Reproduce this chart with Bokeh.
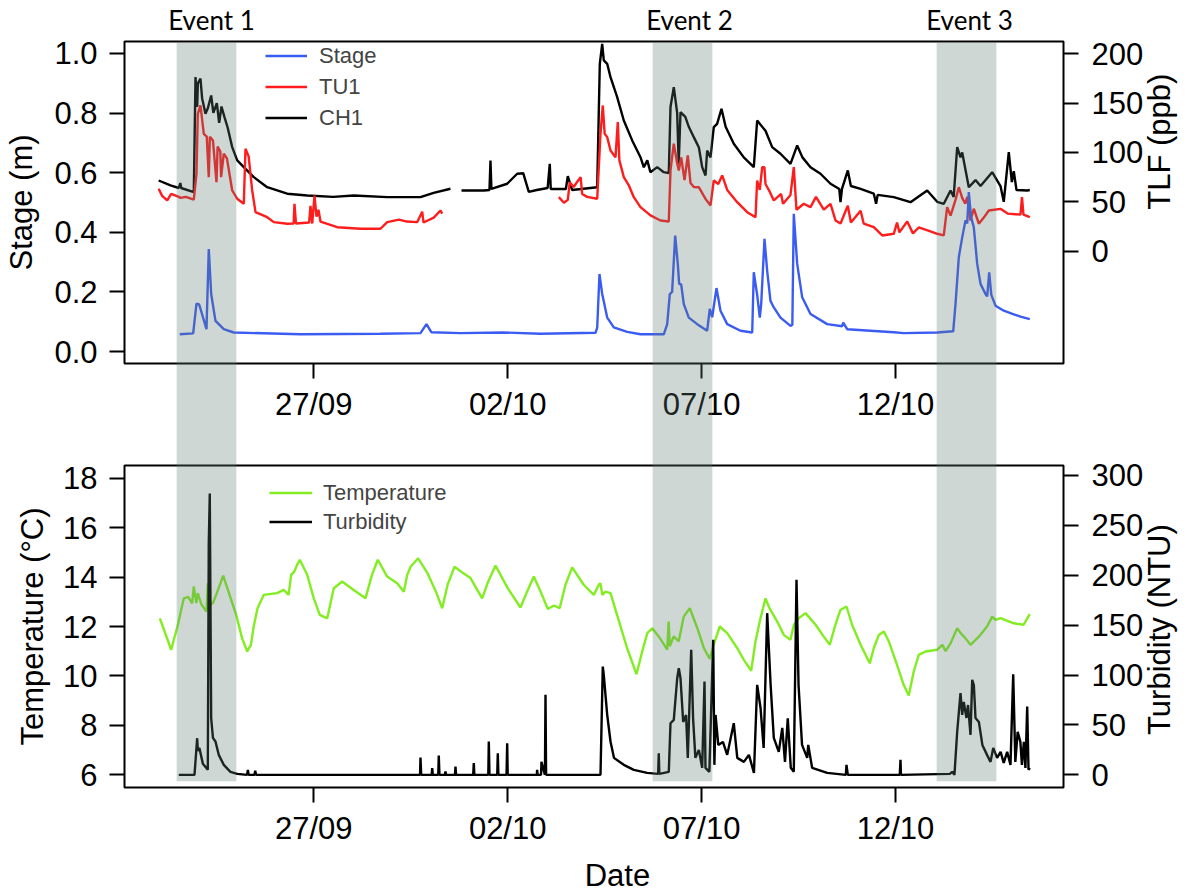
import numpy as np
import pandas as pd
from bokeh.plotting import figure
from bokeh.models import (Range1d, LinearAxis, FixedTicker, DatetimeTickFormatter,
                          PrintfTickFormatter, CustomJSTickFormatter, Legend, LegendItem)
from bokeh.layouts import column
from bokeh.embed import file_html
from bokeh.resources import INLINE

nan = float("nan")
BASE = pd.Timestamp("2013-09-27")  # day offsets below are relative to 27/09 00:00

# ---------------- data (day offset, value) ----------------
stage = [(-3.455, 0.058), (-3.11, 0.061), (-3.025, 0.161), (-2.955, 0.158), (-2.767, 0.075),
         (-2.708, 0.344), (-2.646, 0.193), (-2.535, 0.103), (-2.321, 0.075), (-2.063, 0.064),
         (-0.34, 0.058), (1.72, 0.060), (2.751, 0.062), (2.906, 0.092), (3.03, 0.065),
         (3.783, 0.062), (4.858, 0.064), (5.85, 0.060), (7.264, 0.063), (7.308, 0.080),
         (7.367, 0.260), (7.437, 0.193), (7.566, 0.114), (7.736, 0.081), (8.081, 0.066),
         (8.424, 0.058), (9.025, 0.058), (9.113, 0.092), (9.180, 0.193), (9.24, 0.200),
         (9.319, 0.389), (9.386, 0.294), (9.422, 0.227), (9.474, 0.225), (9.541, 0.159),
         (9.670, 0.114), (9.886, 0.092), (10.144, 0.070), (10.211, 0.143), (10.273, 0.115),
         (10.384, 0.213), (10.487, 0.137), (10.660, 0.092), (11.003, 0.070), (11.305, 0.064),
         (11.346, 0.266), (11.433, 0.190), (11.501, 0.114), (11.537, 0.160), (11.622, 0.378),
         (11.691, 0.271), (11.776, 0.170), (11.862, 0.148), (12.034, 0.114), (12.292, 0.086),
         (12.34, 0.090), (12.377, 0.462), (12.465, 0.294), (12.594, 0.182), (12.808, 0.126),
         (13.238, 0.092), (13.625, 0.085), (13.651, 0.097), (13.754, 0.075), (14.956, 0.065),
         (15.214, 0.062), (16.075, 0.064), (16.488, 0.068), (16.547, 0.159), (16.632, 0.316),
         (16.720, 0.383), (16.805, 0.440), (16.85, 0.430), (16.890, 0.535), (16.95, 0.450),
         (17.019, 0.417), (17.107, 0.294), (17.192, 0.227), (17.321, 0.193), (17.364, 0.185),
         (17.416, 0.266), (17.47, 0.190), (17.578, 0.154), (17.792, 0.137), (18.05, 0.125),
         (18.223, 0.117), (18.463, 0.109)]

ch1 = [(-4.00, 71.6), (-3.695, 66.6), (-3.481, 64.0), (-3.44, 69.0), (-3.42, 64.0), (-3.094, 59.8),
       (-3.05, 176.3), (-3.007, 146.0), (-2.99, 170.0), (-2.922, 174.7), (-2.88, 155.0),
       (-2.793, 139.2), (-2.73, 145.0), (-2.646, 157.7), (-2.59, 140.0), (-2.50, 150.0),
       (-2.44, 130.0), (-2.38, 146.6), (-2.303, 135.8), (-2.22, 125.0), (-2.104, 105.4),
       (-1.975, 91.9), (-1.805, 85.1), (-1.547, 75.0), (-1.202, 64.8), (-0.686, 58.2),
       (-0.17, 56.4), (0.5, 55.0), (1.031, 56.4), (1.893, 54.7), (2.751, 54.7), (3.09, 59.0),
       (3.525, 63.2), (3.6, nan), (3.809, 61.5), (4.384, 61.5), (4.53, 62.0), (4.556, 91.9),
       (4.58, 63.0), (4.987, 68.3), (5.245, 78.4), (5.40, 79.0), (5.544, 60.0), (5.75, 62.0),
       (6.03, 64.0), (6.085, 88.5), (6.11, 63.0), (6.50, 63.0), (6.55, 76.0), (6.66, 62.0),
       (7.308, 64.8), (7.375, 189.8), (7.437, 210.0), (7.478, 193.2), (7.566, 189.8),
       (7.651, 176.3), (7.823, 156.0), (7.994, 132.4), (8.21, 112.2), (8.424, 95.2),
       (8.51, 85.0), (8.60, 92.0), (8.68, 80.0), (8.855, 85.1), (9.025, 80.0), (9.154, 79.0),
       (9.198, 146.0), (9.283, 166.2), (9.37, 140.0), (9.41, 88.5), (9.456, 140.8),
       (9.58, 136.0), (9.67, 126.0), (9.799, 115.5), (9.93, 105.0), (10.015, 85.1),
       (10.101, 76.7), (10.144, 102.0), (10.23, 95.0), (10.314, 125.6), (10.40, 129.0),
       (10.513, 144.3), (10.62, 126.0), (10.83, 108.8), (11.088, 95.0), (11.346, 85.1),
       (11.433, 132.4), (11.52, 128.0), (11.648, 122.0), (11.82, 105.4), (12.034, 98.7),
       (12.292, 88.5), (12.465, 107.1), (12.60, 95.0), (12.808, 85.1), (13.066, 78.4),
       (13.324, 68.3), (13.55, 63.0), (13.582, 49.6), (13.62, 63.0), (13.77, 81.8),
       (13.85, 66.0), (14.10, 63.0), (14.44, 58.2), (14.50, 48.0), (14.54, 57.0),
       (14.956, 54.7), (15.387, 49.6), (15.817, 61.5), (16.075, 50.0), (16.245, 48.0),
       (16.42, 61.5), (16.50, 55.0), (16.591, 105.4), (16.676, 95.0), (16.72, 100.0),
       (16.89, 64.8), (17.063, 72.0), (17.192, 66.0), (17.493, 80.0), (17.707, 66.0),
       (17.792, 50.0), (17.921, 100.3), (18.00, 70.0), (18.05, 81.0), (18.12, 62.0),
       (18.396, 61.5), (18.463, 62.0)]

tu1 = [(-4.00, 63.2), (-3.91, 56.0), (-3.78, 51.4), (-3.677, 58.0), (-3.48, 55.0), (-3.437, 54.0),
       (-3.30, 55.0), (-3.094, 52.1), (-3.025, 78.4), (-2.991, 139.2), (-2.922, 147.6),
       (-2.836, 118.9), (-2.76, 116.0), (-2.708, 75.0), (-2.68, 116.0), (-2.60, 112.0),
       (-2.509, 69.9), (-2.48, 106.0), (-2.41, 101.0), (-2.39, 75.0), (-2.321, 98.7),
       (-2.24, 94.0), (-2.104, 61.5), (-1.975, 53.1), (-1.805, 48.0), (-1.761, 103.7),
       (-1.68, 96.0), (-1.59, 62.0), (-1.503, 39.5), (-1.202, 34.4), (-1.031, 29.4),
       (-0.686, 27.8), (-0.52, 28.0), (-0.498, 48.0), (-0.46, 28.0), (-0.12, 29.0),
       (-0.085, 46.0), (-0.04, 28.0), (0.018, 56.4), (0.07, 35.0), (0.12, 42.0), (0.173, 30.0),
       (0.603, 24.3), (1.204, 22.7), (1.72, 22.7), (1.893, 29.4), (2.2, 32.0), (2.4, 30.0),
       (2.666, 29.4), (2.795, 40.0), (2.83, 29.0), (3.094, 34.0), (3.267, 41.2), (3.311, 38.0),
       (4.0, nan), (6.318, 54.7), (6.45, 49.0), (6.55, 52.0), (6.601, 69.9), (6.70, 65.0),
       (6.79, 70.0), (6.88, 75.0), (6.921, 58.0), (7.05, 55.0), (7.308, 53.1), (7.393, 118.9),
       (7.452, 147.6), (7.50, 119.0), (7.566, 115.5), (7.651, 102.0), (7.78, 95.0),
       (7.839, 130.7), (7.88, 92.0), (7.994, 75.0), (8.12, 67.0), (8.252, 54.7), (8.424, 44.6),
       (8.682, 36.2), (8.940, 31.1), (9.154, 30.0), (9.198, 81.8), (9.283, 108.8), (9.37, 89.0),
       (9.412, 81.8), (9.474, 95.0), (9.56, 72.0), (9.644, 97.0), (9.714, 69.0), (9.80, 65.0),
       (9.928, 64.8), (10.101, 53.0), (10.229, 46.3), (10.314, 71.6), (10.43, 68.0),
       (10.531, 76.7), (10.66, 62.0), (10.918, 49.6), (11.176, 39.5), (11.390, 34.4),
       (11.433, 71.6), (11.50, 62.0), (11.563, 85.1), (11.62, 85.0), (11.648, 68.0),
       (11.76, 60.0), (11.862, 51.4), (12.05, 58.0), (12.10, 48.0), (12.292, 57.0),
       (12.377, 85.1), (12.447, 42.0), (12.635, 48.0), (12.808, 44.6), (12.95, 55.0),
       (13.151, 42.0), (13.324, 48.0), (13.453, 31.1), (13.582, 28.0), (13.770, 46.0),
       (13.85, 29.0), (14.10, 41.0), (14.18, 28.0), (14.440, 24.3), (14.657, 15.9),
       (14.956, 17.6), (15.04, 29.0), (15.10, 19.0), (15.302, 30.0), (15.45, 18.0),
       (15.600, 24.0), (15.90, 20.0), (16.075, 17.6), (16.245, 16.0), (16.332, 44.6),
       (16.42, 36.0), (16.547, 52.0), (16.632, 64.8), (16.72, 54.0), (16.80, 48.0),
       (16.85, 55.0), (16.934, 31.1), (17.019, 43.0), (17.148, 27.8), (17.277, 34.0),
       (17.406, 41.2), (17.707, 42.9), (17.90, 38.0), (18.223, 37.0), (18.261, 54.7),
       (18.30, 37.0), (18.463, 34.4)]

temperature = [(-3.97, 12.33), (-3.677, 11.06), (-3.50, 12.10), (-3.352, 13.14), (-3.24, 13.20),
               (-3.136, 12.94), (-3.094, 13.62), (-3.03, 12.95), (-2.99, 13.35), (-2.90, 12.90),
               (-2.767, 12.60), (-2.733, 13.75), (-2.70, 12.85), (-2.60, 12.95), (-2.50, 13.35),
               (-2.336, 14.06), (-2.20, 13.41), (-2.00, 12.47), (-1.85, 11.53), (-1.717, 10.99),
               (-1.62, 11.26), (-1.55, 12.00), (-1.45, 12.74), (-1.289, 13.28), (-0.95, 13.35),
               (-0.774, 13.48), (-0.65, 13.28), (-0.583, 14.09), (-0.50, 14.23), (-0.43, 14.50),
               (-0.361, 14.70), (-0.17, 14.09), (0.0, 13.14), (0.155, 12.47), (0.346, 12.33),
               (0.516, 13.55), (0.732, 13.82), (1.03, 13.48), (1.333, 13.14), (1.50, 14.09),
               (1.650, 14.70), (1.893, 14.02), (2.151, 13.75), (2.321, 13.41), (2.41, 14.09),
               (2.50, 14.43), (2.692, 14.76), (2.93, 14.16), (3.15, 13.41), (3.311, 12.74),
               (3.45, 13.69), (3.63, 14.42), (3.85, 14.16), (4.041, 13.96), (4.342, 13.14),
               (4.48, 13.75), (4.685, 14.47), (5.0, 13.55), (5.330, 12.77), (5.50, 13.41),
               (5.673, 14.02), (5.85, 13.41), (6.034, 12.71), (6.19, 12.85), (6.34, 12.74),
               (6.49, 13.69), (6.663, 14.39), (6.96, 13.69), (7.220, 13.28), (7.35, 13.69),
               (7.39, 13.75), (7.44, 13.28), (7.52, 13.41), (7.651, 13.35), (7.82, 12.47),
               (8.08, 11.12), (8.321, 10.07), (8.47, 11.00), (8.60, 11.73), (8.726, 11.93),
               (8.90, 11.59), (9.113, 11.06), (9.15, 12.20), (9.18, 11.20), (9.28, 11.60),
               (9.41, 11.40), (9.54, 12.40), (9.696, 12.74), (9.89, 11.93), (10.06, 11.12),
               (10.211, 10.69), (10.31, 11.26), (10.469, 12.00), (10.66, 11.73), (10.92, 11.12),
               (11.09, 10.65), (11.279, 10.21), (11.39, 11.40), (11.52, 12.34), (11.648, 13.14),
               (11.75, 12.74), (11.95, 12.20), (12.12, 11.66), (12.292, 11.46), (12.38, 12.07),
               (12.51, 12.34), (12.679, 12.54), (12.94, 12.07), (13.15, 11.59), (13.306, 11.26),
               (13.45, 12.07), (13.58, 12.67), (13.736, 12.81), (13.88, 12.07), (14.10, 11.26),
               (14.337, 10.51), (14.44, 11.12), (14.57, 11.66), (14.698, 11.80), (14.83, 11.39),
               (15.04, 10.45), (15.21, 9.64), (15.343, 9.21), (15.47, 10.18), (15.60, 10.85),
               (15.773, 10.99), (16.075, 11.06), (16.21, 11.26), (16.29, 11.00), (16.42, 11.32),
               (16.591, 11.93), (16.68, 11.73), (16.80, 11.53), (16.934, 11.26), (17.15, 11.59),
               (17.36, 12.00), (17.493, 12.40), (17.58, 12.27), (17.71, 12.34), (18.05, 12.13),
               (18.30, 12.07), (18.463, 12.50)]

turbidity = [(-3.481, 0), (-3.076, 0), (-3.007, 36.7), (-2.99, 24), (-2.95, 27), (-2.86, 11),
             (-2.733, 5), (-2.708, 232), (-2.682, 282), (-2.646, 56.7), (-2.60, 37), (-2.535, 33.4),
             (-2.45, 20), (-2.321, 10), (-2.15, 3), (-1.975, 1), (-1.72, 0), (-1.70, 5), (-1.68, 0),
             (-1.53, 0), (-1.51, 4), (-1.49, 0), (2.74, 0), (2.751, 17.4), (2.77, 0), (3.04, 0),
             (3.053, 6.7), (3.07, 0), (3.21, 0), (3.223, 19.4), (3.24, 0), (3.38, 0), (3.396, 3.3),
             (3.41, 0), (3.64, 0), (3.654, 8.3), (3.67, 0), (4.11, 0), (4.126, 11.7), (4.14, 0),
             (4.50, 0), (4.513, 33.4), (4.53, 0), (4.73, 0), (4.745, 21.7), (4.76, 0), (4.97, 0),
             (4.987, 31.7), (5.00, 0), (5.75, 0), (5.76, 5), (5.77, 0), (5.86, 0), (5.871, 13),
             (5.96, 0), (5.975, 80.2), (5.99, 0), (7.393, 0), (7.452, 108.5), (7.478, 100),
             (7.566, 60.1), (7.651, 33.4), (7.74, 17), (7.994, 10), (8.252, 5), (8.597, 2),
             (8.88, 1), (8.896, 21.7), (8.91, 1), (9.154, 3), (9.198, 51.7), (9.283, 55),
             (9.371, 96.8), (9.412, 106.8), (9.456, 96.8), (9.525, 53), (9.60, 60), (9.644, 17),
             (9.732, 125.3), (9.78, 57), (9.84, 17), (9.93, 25), (10.015, 7), (10.075, 93.5),
             (10.10, 7), (10.20, 3), (10.299, 135.3), (10.33, 10), (10.36, 60), (10.43, 30),
             (10.55, 33), (10.66, 20), (10.830, 51.7), (10.92, 17), (11.09, 13), (11.22, 20),
             (11.35, 2), (11.433, 90.2), (11.52, 67), (11.60, 27), (11.691, 162), (11.78, 90),
             (11.862, 37), (11.99, 23), (12.08, 47), (12.15, 13), (12.222, 56.7), (12.30, 7),
             (12.377, 3), (12.447, 195.4), (12.50, 90), (12.59, 30), (12.723, 17), (12.75, 30),
             (12.85, 7), (13.238, 2), (13.72, 0), (13.736, 10), (13.77, 0), (15.11, 0),
             (15.129, 15), (15.14, 0), (16.40, 1), (16.462, 3), (16.52, 0), (16.591, 43.4),
             (16.676, 81.8), (16.72, 60), (16.76, 73), (16.83, 57), (16.87, 70), (16.934, 40),
             (16.978, 95.2), (17.02, 90), (17.063, 57), (17.15, 53), (17.24, 30), (17.36, 20),
             (17.450, 13), (17.52, 27), (17.62, 17), (17.71, 23), (17.79, 12), (17.88, 23),
             (17.965, 10), (18.035, 100.8), (18.09, 13), (18.15, 43), (18.22, 33), (18.26, 10),
             (18.31, 33), (18.35, 7), (18.396, 68.4), (18.43, 5), (18.463, 7)]

event_names = ["Event 1", "Event 2", "Event 3"]
event_start = [-3.541, 8.734, 16.059]
event_end = [-2.001, 10.273, 17.597]
event_label_x = [-2.638, 9.687, 16.908]

date_ticks_days = [0, 5, 10, 15]
stage_ticks = [0.0, 0.2, 0.4, 0.6, 0.8, 1.0]
tlf_ticks = [0, 50, 100, 150, 200]
temp_ticks = [6, 8, 10, 12, 14, 16, 18]
turb_ticks = [0, 50, 100, 150, 200, 250, 300]

# ---------------- helpers ----------------
BASE_MS = BASE.value / 1e6
DAY_MS = 86400000.0


def ms(d):
    return BASE_MS + d * DAY_MS


def unzip(pairs):
    t = np.array([ms(a) for a, _ in pairs])
    v = np.array([b for _, b in pairs], dtype=float)
    return t, v


FONT = "Liberation Sans"
EVFONT = "Lato"
BLUE = "#3b5cf2"
RED = "#ff1c1c"
GREEN = "#82ee22"
BLACK = "#000000"
BAND = "#5f7a74"
BAND_ALPHA = 0.30
LW = 2.4

W, BL, BR = 1192, 124, 129
FRAME_W, FRAME_H = W - BL - BR, 322
X_START, X_END = -4.881, 19.332
PX_PER_DAY = FRAME_W / (X_END - X_START)
band_centers = [ms((a + b) / 2) for a, b in zip(event_start, event_end)]
band_px = float(np.mean([(b - a) * PX_PER_DAY for a, b in zip(event_start, event_end)]))
CAP = band_px / 2.0   # square line caps extend each band end by half its width


def style_axis(ax, standoff, size="31px"):
    ax.axis_line_color = None
    ax.major_tick_line_color = "black"
    ax.major_tick_line_width = 2
    ax.major_tick_out = 15
    ax.major_tick_in = 0
    ax.minor_tick_line_color = None
    ax.major_label_text_font = FONT
    ax.major_label_text_font_size = size
    ax.major_label_text_color = "black"
    ax.major_label_standoff = standoff
    ax.axis_label_text_font = FONT
    ax.axis_label_text_font_size = "31px"
    ax.axis_label_text_font_style = "normal"
    ax.axis_label_text_color = "black"


def title_axis(ax, standoff, font, size):
    # an axis carrying text labels only (no rule, no tick mark)
    ax.axis_line_color = None
    ax.major_tick_line_color = None
    ax.minor_tick_line_color = None
    ax.major_tick_out = 0
    ax.major_tick_in = 0
    ax.major_label_text_font = font
    ax.major_label_text_font_size = size
    ax.major_label_text_color = "black"
    ax.major_label_standoff = standoff


def band_axis(tick_in, tick_out):
    # event bands drawn as wide, translucent tick marks at the band centres
    ax = LinearAxis(ticker=FixedTicker(ticks=band_centers),
                    formatter=CustomJSTickFormatter(code="return '';"))
    ax.axis_line_color = None
    ax.minor_tick_line_color = None
    ax.major_tick_line_color = BAND
    ax.major_tick_line_alpha = BAND_ALPHA
    ax.major_tick_line_width = band_px
    ax.major_tick_line_cap = "square"
    ax.major_tick_in = int(round(tick_in))
    ax.major_tick_out = int(round(tick_out))
    ax.major_label_standoff = 0
    ax.major_label_text_font_size = "0px"
    return ax


def make_fig(y0, y1, btop, bbot):
    p = figure(x_axis_type="datetime", frame_width=FRAME_W, frame_height=FRAME_H,
               x_range=Range1d(ms(X_START), ms(X_END)), y_range=Range1d(y0, y1),
               min_border_left=BL, min_border_right=BR,
               min_border_top=btop, min_border_bottom=bbot,
               output_backend="svg", toolbar_location=None)
    p.grid.visible = False
    p.outline_line_color = "black"
    p.outline_line_width = 2
    p.outline_line_alpha = 1.0
    p.background_fill_color = "white"
    p.border_fill_color = "white"
    xa = p.xaxis[0]
    xa.ticker = FixedTicker(ticks=[ms(d) for d in date_ticks_days])
    fmt = "%d/%m"
    xa.formatter = DatetimeTickFormatter(microseconds=fmt, milliseconds=fmt, seconds=fmt,
                                         minsec=fmt, minutes=fmt, hourmin=fmt, hours=fmt,
                                         days=fmt, months=fmt, years=fmt)
    style_axis(xa, 8)
    return p, xa


def vertical_title(text, range_name, pos, standoff):
    ax = LinearAxis(y_range_name=range_name, ticker=FixedTicker(ticks=[pos]),
                    formatter=CustomJSTickFormatter(args=dict(t=text), code="return t;"),
                    major_label_orientation=np.pi / 2)
    title_axis(ax, standoff, FONT, "31px")
    return ax


# ---------------- top panel ----------------
top, top_x = make_fig(-0.04, 1.04, 41, 0)
top.extra_y_ranges = {"tlf": Range1d(-113.8, 212.4)}
ya = top.yaxis[0]
ya.ticker = FixedTicker(ticks=stage_ticks)
ya.formatter = PrintfTickFormatter(format="%.1f")
ya.axis_label = "Stage (m)"
style_axis(ya, 12)
ya.axis_label_standoff = 12

ra = LinearAxis(y_range_name="tlf", ticker=FixedTicker(ticks=tlf_ticks))
style_axis(ra, 13)
top.add_layout(ra, "right")
# title starts (bottom end of the upright text) at this TLF value
top.add_layout(vertical_title("TLF (ppb)", "tlf", 42.0, 13), "right")

ev_axis = LinearAxis(ticker=FixedTicker(ticks=[ms(c) for c in event_label_x]),
                     formatter=CustomJSTickFormatter(args=dict(names=event_names),
                                                     code="return names[index];"))
title_axis(ev_axis, 6, EVFONT, "26px")
top.add_layout(ev_axis, "above")

# band: from just above the frame top, down through the date labels past the canvas bottom
top.add_layout(band_axis(tick_in=58 + FRAME_H + 2 - CAP, tick_out=17), "below")

t, v = unzip(ch1)
r_ch1 = top.line(t, v, color=BLACK, line_width=LW, y_range_name="tlf")
t, v = unzip(tu1)
r_tu1 = top.line(t, v, color=RED, line_width=LW, y_range_name="tlf")
t, v = unzip(stage)
r_stage = top.line(t, v, color=BLUE, line_width=LW)

leg1 = Legend(items=[LegendItem(label="Stage", renderers=[r_stage]),
                     LegendItem(label="TU1", renderers=[r_tu1]),
                     LegendItem(label="CH1", renderers=[r_ch1])],
              location=(141, 232), orientation="vertical",
              border_line_color=None, background_fill_alpha=0,
              label_text_font=FONT, label_text_font_size="22px",
              glyph_width=42, glyph_height=27, label_height=27, spacing=4,
              padding=0, margin=0, label_standoff=12)
top.add_layout(leg1)

# ---------------- bottom panel ----------------
bot, bot_x = make_fig(5.486, 18.514, 24, 104)
bot.extra_y_ranges = {"turb": Range1d(-12.7, 310)}
yb = bot.yaxis[0]
yb.ticker = FixedTicker(ticks=temp_ticks)
yb.axis_label = "Temperature (°C)"
style_axis(yb, 12)
yb.axis_label_standoff = 10

rb = LinearAxis(y_range_name="turb", ticker=FixedTicker(ticks=turb_ticks))
style_axis(rb, 13)
bot.add_layout(rb, "right")
bot.add_layout(vertical_title("Turbidity (NTU)", "turb", 40.0, 13), "right")

# band: from above the canvas top down to just above the frame bottom
bot.add_layout(band_axis(tick_in=316 - CAP, tick_out=24), "above")

date_axis = LinearAxis(ticker=FixedTicker(ticks=[ms(7.83)]),
                       formatter=CustomJSTickFormatter(code="return 'Date';"))
title_axis(date_axis, 9, FONT, "31px")
bot.add_layout(date_axis, "below")

t, v = unzip(temperature)
r_temp = bot.line(t, v, color=GREEN, line_width=LW)
t, v = unzip(turbidity)
r_turb = bot.line(t, v, color=BLACK, line_width=LW, y_range_name="turb")

leg2 = Legend(items=[LegendItem(label="Temperature", renderers=[r_temp]),
                     LegendItem(label="Turbidity", renderers=[r_turb])],
              location=(145, 252), orientation="vertical",
              border_line_color=None, background_fill_alpha=0,
              label_text_font=FONT, label_text_font_size="22px",
              glyph_width=43, glyph_height=27, label_height=27, spacing=2,
              padding=0, margin=0, label_standoff=11)
bot.add_layout(leg2)

layout = column(top, bot, spacing=0)
open("out.html", "w").write(file_html(layout, INLINE))
